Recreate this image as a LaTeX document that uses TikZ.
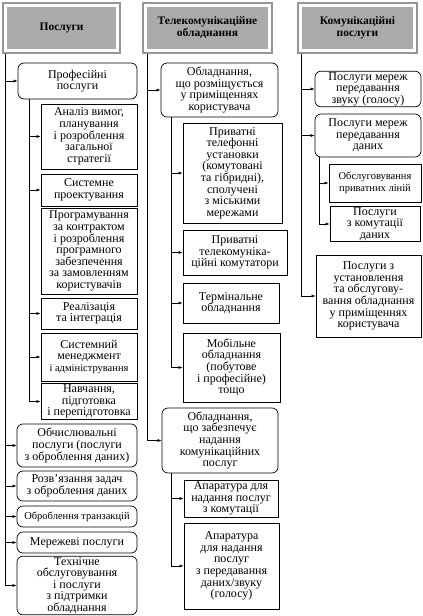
\documentclass[tikz,border=0pt]{standalone}
\usepackage{fontspec}
\setmainfont{Liberation Serif}
\usetikzlibrary{arrows.meta}
\definecolor{headgray}{RGB}{170, 170, 170}
\definecolor{framegray}{RGB}{150, 150, 150}

\begin{document}
\begin{tikzpicture}[x=1pt, y=-1pt,
		txt/.style={align=center, inner sep=1pt, font=\fontsize{12}{11.6}\selectfont},
		head/.style={txt, fill=headgray, font=\fontsize{11.5}{12}\selectfont\bfseries,
			preaction={draw=framegray, line width=10pt},
			preaction={draw=white, line width=6pt}},
		rbox/.style={txt, draw, rounded corners=6pt, line width=0.7pt},
		sbox/.style={txt, draw, line width=0.7pt},
		small/.style={font=\fontsize{10.5}{11.6}\selectfont},
		arr/.style={line width=0.6pt, -{Latex[length=4pt, width=3pt]}}]
		\useasboundingbox (0,0) rectangle (423,616);
		
		% Стовпець 1
		\node[head, minimum width=109, minimum height=42] (h1) at (61.5, 28) {Послуги};
		\coordinate (t1) at (5, 54);
		\coordinate (s1) at (29, 0);
		\node[rbox, minimum width=119, minimum height=36] (p1) at (77.5, 81) {Професійні\\послуги};
		\node[sbox, minimum width=96, minimum height=65] (a1) at (89, 136.5) {Аналіз вимог,\\планування\\і розроблення\\загальної\\стратегії};
		\node[sbox, minimum width=96, minimum height=32] (a2) at (89, 190) {Системне\\проектування};
		\node[sbox, minimum width=96, minimum height=86] (a3) at (89, 251) {Програмування\\за контрактом\\і розроблення\\програмного\\забезпечення\\за замовленням\\користувачів};
		\node[sbox, minimum width=96, minimum height=31] (a4) at (89, 313.5) {Реалізація\\та інтеграція};
		\node[sbox, minimum width=96, minimum height=48] (a5) at (89, 357) {Системний\\менеджмент\\{\fontsize{10.5}{11.6}\selectfont і адміністрування}};
		\node[sbox, minimum width=96, minimum height=33] (a6) at (89, 401.5) {Навчання,\\підготовка\\і перепідготовка};
		\node[rbox, minimum width=120, minimum height=43] (p2) at (77, 445.5) {Обчислювальні\\послуги (послуги\\з оброблення даних)};
		\node[rbox, minimum width=120, minimum height=30] (p3) at (77, 486) {Розв’язання задач\\з оброблення даних};
		\node[rbox, small, minimum width=120, minimum height=21] (p4) at (77, 516.5) {Оброблення транзакцій};
		\node[rbox, minimum width=120, minimum height=21] (p5) at (77, 542.5) {Мережеві послуги};
		\node[rbox, minimum width=120, minimum height=55] (p6) at (77, 585.5) {Технічне\\обслуговування\\і послуги\\з підтримки\\обладнання};
		
		\draw[arr] (t1) |- (p1.west);
		\draw[arr] (t1) |- (p2.west);
		\draw[arr] (t1) |- (p3.west);
		\draw[arr] (t1) |- (p4.west);
		\draw[arr] (t1) |- (p5.west);
		\draw[arr] (t1) |- (p6.west);
		\draw[arr] (p1.south -| s1) |- (a1.west);
		\draw[arr] (p1.south -| s1) |- (a2.west);
		\draw[arr] (p1.south -| s1) |- (a4.west);
		\draw[arr] (p1.south -| s1) |- (a5.west);
		\draw[arr] (p1.south -| s1) |- (a6.west);
		
		% Стовпець 2
		\node[head, minimum width=121, minimum height=42] (h2) at (207.5, 28) {Телекомунікаційне\\обладнання};
		\coordinate (t2) at (147, 54);
		\coordinate (s2) at (171, 0);
		\node[rbox, minimum width=117, minimum height=54] (q1) at (219.5, 90) {Обладнання,\\що розміщується\\у приміщеннях\\користувача};
		\node[sbox, minimum width=99, minimum height=100] (b1) at (232.5, 173) {Приватні\\телефонні\\установки\\(комутовані\\та гібридні),\\сполучені\\з міськими\\мережами};
		\node[sbox, minimum width=104, minimum height=45] (b2) at (235, 252.5) {Приватні\\телекомуніка-\\ційні комутатори};
		\node[sbox, minimum width=96, minimum height=40] (b3) at (231, 303) {Термінальне\\обладнання};
		\node[sbox, minimum width=97, minimum height=69] (b4) at (231.5, 367.5) {Мобільне\\обладнання\\(побутове\\і професійне)\\тощо};
		\node[rbox, minimum width=116, minimum height=65] (q2) at (220, 440.5) {Обладнання,\\що забезпечує\\надання\\комунікаційних\\послуг};
		\node[sbox, minimum width=94, minimum height=37] (c1) at (231, 498.5) {Апаратура для\\надання послуг\\з комутації};
		\node[sbox, minimum width=95, minimum height=86] (c2) at (231.5, 566) {Апаратура\\для надання\\послуг\\з передавання\\даних/звуку\\(голосу)};
		
		\draw[arr] (t2) |- (q1.west);
		\draw[arr] (t2) |- (q2.west);
		\draw[arr] (q1.south -| s2) |- (b1.west);
		\draw[arr] (q1.south -| s2) |- (b2.west);
		\draw[arr] (q1.south -| s2) |- (b3.west);
		\draw[arr] (q1.south -| s2) |- (b4.west);
		\draw[arr] (q2.south -| s2) |- (c1.west);
		\draw[arr] (q2.south -| s2) |- (c2.west);
		
		% Стовпець 3
		\node[head, minimum width=111, minimum height=42] (h3) at (357.5, 28) {Комунікаційні\\послуги};
		\coordinate (t3) at (301, 54);
		\coordinate (s3) at (319, 0);
		\node[rbox, minimum width=106, minimum height=34] (r1) at (368, 89) {Послуги мереж\\передавання\\звуку (голосу)};
		\node[rbox, minimum width=106, minimum height=43] (r2) at (368, 135.5) {Послуги мереж\\передавання\\даних};
		\node[sbox, small, minimum width=92, minimum height=38] (d1) at (375, 183) {Обслуговування\\приватних ліній};
		\node[sbox, minimum width=90, minimum height=32] (d2) at (375, 224) {Послуги\\з комутації\\даних};
		\node[sbox, minimum width=105, minimum height=82] (r3) at (368.5, 296) {Послуги з\\установлення\\та обслугову-\\вання обладнання\\у приміщеннях\\користувача};
		
		\draw[arr] (t3) |- (r1.west);
		\draw[arr] (t3) |- (r2.west);
		\draw[arr] (t3) |- (r3.west);
		\draw[arr] (r2.south -| s3) |- (d1.west);
		\draw[arr] (r2.south -| s3) |- (d2.west);
	\end{tikzpicture}
\end{document}
